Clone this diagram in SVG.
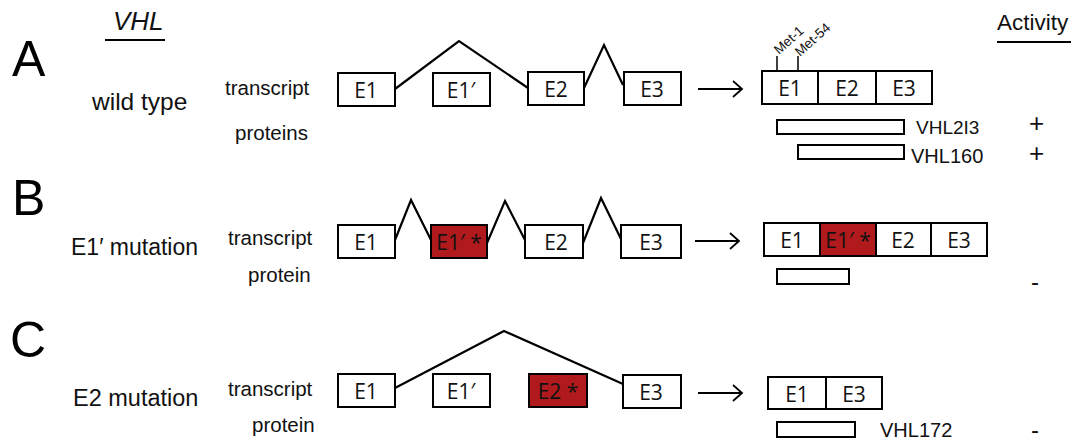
<svg xmlns="http://www.w3.org/2000/svg" width="1080" height="443" viewBox="0 0 1080 443">
<style>
.bx{fill:#fff;stroke:#000;stroke-width:2}
.red{fill:#b01a1d;stroke:#000;stroke-width:2}
.bar{fill:#fff;stroke:#000;stroke-width:2}
.ln{fill:none;stroke:#000;stroke-width:2.2;stroke-linejoin:miter}
.ex{font-family:"Open Sans","Liberation Sans",sans-serif;font-size:21px;text-anchor:middle;fill:#111}
.lb{font-family:"Liberation Sans",Arial,sans-serif;fill:#111}
.big{font-family:"Liberation Sans",Arial,sans-serif;font-size:50px;fill:#000}
.arr{fill:none;stroke:#000;stroke-width:1.8}
</style>
<g id="header">
<text class="lb" x="113" y="30" font-size="26" font-style="italic">VHL</text>
<line x1="105" y1="40" x2="165" y2="40" stroke="#000" stroke-width="2"/>
<text class="lb" x="997" y="30" font-size="22.5">Activity</text>
<line x1="997" y1="42" x2="1071" y2="42" stroke="#000" stroke-width="2"/>
</g>
<g id="rowA">
<text class="big" x="12" y="76">A</text>
<text class="lb" x="92" y="110" font-size="24.5">wild type</text>
<text class="lb" x="225" y="95" font-size="20.5">transcript</text>
<text class="lb" x="235" y="140" font-size="20.5">proteins</text>
</g>
<g id="rowB">
<text class="big" x="12" y="215">B</text>
<text class="lb" x="71" y="255" font-size="23">E1′ mutation</text>
<text class="lb" x="228" y="245" font-size="20.5">transcript</text>
<text class="lb" x="248" y="282" font-size="20.5">protein</text>
</g>
<g id="rowC">
<text class="big" x="10" y="357">C</text>
<text class="lb" x="73" y="406" font-size="23.5">E2 mutation</text>
<text class="lb" x="228" y="396" font-size="20.5">transcript</text>
<text class="lb" x="252" y="432" font-size="20.5">protein</text>
</g>
<g id="connectors">
<polyline class="ln" points="395,89 459,41 528,88"/>
<polyline class="ln" points="584,88 604,45 623,85"/>
<polyline class="ln" points="395,240 411,200 431,240"/>
<polyline class="ln" points="487,243 505,201 525,240"/>
<polyline class="ln" points="583,243 601,198 621,239"/>
<polyline class="ln" points="395,388 504,331 623,384"/>
<g class="arr">
<line x1="698" y1="89" x2="742" y2="89"/><polyline points="733,81 742,89 733,97"/>
<line x1="695" y1="241" x2="739" y2="241"/><polyline points="730,233 739,241 730,249"/>
<line x1="698" y1="393" x2="742" y2="393"/><polyline points="733,385 742,393 733,401"/>
</g>
<line x1="777" y1="56" x2="777" y2="71" stroke="#000" stroke-width="1.5"/>
<line x1="798" y1="56" x2="798" y2="71" stroke="#000" stroke-width="1.5"/>
</g>
<g id="A_E1"><rect class="bx" x="338" y="73" width="57" height="33"/><text class="ex" x="366" y="98">E1</text></g>
<g id="A_E1p"><rect class="bx" x="433" y="73" width="57" height="33"/><text class="ex" x="461" y="98">E1′</text></g>
<g id="A_E2"><rect class="bx" x="528" y="72" width="56" height="33"/><text class="ex" x="556" y="97">E2</text></g>
<g id="A_E3"><rect class="bx" x="624" y="72" width="57" height="33"/><text class="ex" x="652" y="97">E3</text></g>
<g id="A_mature">
<rect class="bx" x="762" y="71" width="170" height="33"/>
<line x1="818" y1="71" x2="818" y2="104" stroke="#000" stroke-width="2"/>
<line x1="876" y1="71" x2="876" y2="104" stroke="#000" stroke-width="2"/>
<text class="ex" x="790" y="96">E1</text><text class="ex" x="847" y="96">E2</text><text class="ex" x="904" y="96">E3</text>
<text class="lb" font-size="13.5" transform="translate(779,55) rotate(-42)">Met-1</text>
<text class="lb" font-size="13.5" transform="translate(800,57) rotate(-42)">Met-54</text>
</g>
<g id="A_VHL213"><rect class="bar" x="777" y="120" width="127" height="14"/><text class="lb" x="916" y="134" font-size="19">VHL2I3</text><text class="lb" x="1029" y="132" font-size="26">+</text></g>
<g id="A_VHL160"><rect class="bar" x="798" y="145" width="106" height="14"/><text class="lb" x="911" y="163" font-size="20">VHL160</text><text class="lb" x="1029" y="162" font-size="26">+</text></g>
<g id="B_E1"><rect class="bx" x="338" y="225" width="57" height="33"/><text class="ex" x="366" y="250">E1</text></g>
<g id="B_E1p"><rect class="red" x="431" y="225" width="56" height="33"/><text class="ex" x="459" y="250">E1′ *</text></g>
<g id="B_E2"><rect class="bx" x="525" y="225" width="58" height="33"/><text class="ex" x="556" y="250">E2</text></g>
<g id="B_E3"><rect class="bx" x="621" y="225" width="60" height="33"/><text class="ex" x="651" y="250">E3</text></g>
<g id="B_mature">
<rect class="bx" x="764" y="223" width="223" height="33"/>
<rect class="red" x="820" y="223" width="56" height="33"/>
<line x1="931" y1="223" x2="931" y2="256" stroke="#000" stroke-width="2"/>
<text class="ex" x="792" y="248">E1</text><text class="ex" x="848" y="248">E1′ *</text><text class="ex" x="903" y="248">E2</text><text class="ex" x="959" y="248">E3</text>
</g>
<g id="B_protein"><rect class="bar" x="777" y="269" width="72" height="15"/><text class="lb" x="1031" y="290" font-size="24">-</text></g>
<g id="C_E1"><rect class="bx" x="338" y="374" width="57" height="33"/><text class="ex" x="366" y="399">E1</text></g>
<g id="C_E1p"><rect class="bx" x="433" y="374" width="57" height="33"/><text class="ex" x="461" y="399">E1′</text></g>
<g id="C_E2"><rect class="red" x="529" y="374" width="58" height="33"/><text class="ex" x="558" y="399">E2 *</text></g>
<g id="C_E3"><rect class="bx" x="623" y="375" width="58" height="33"/><text class="ex" x="651" y="400">E3</text></g>
<g id="C_mature">
<rect class="bx" x="768" y="377" width="114" height="32"/>
<line x1="826" y1="377" x2="826" y2="409" stroke="#000" stroke-width="2"/>
<text class="ex" x="797" y="402">E1</text><text class="ex" x="854" y="402">E3</text>
</g>
<g id="C_VHL172"><rect class="bar" x="777" y="422" width="78" height="15"/><text class="lb" x="880" y="437" font-size="20">VHL172</text><text class="lb" x="1031" y="438" font-size="24">-</text></g>
</svg>
